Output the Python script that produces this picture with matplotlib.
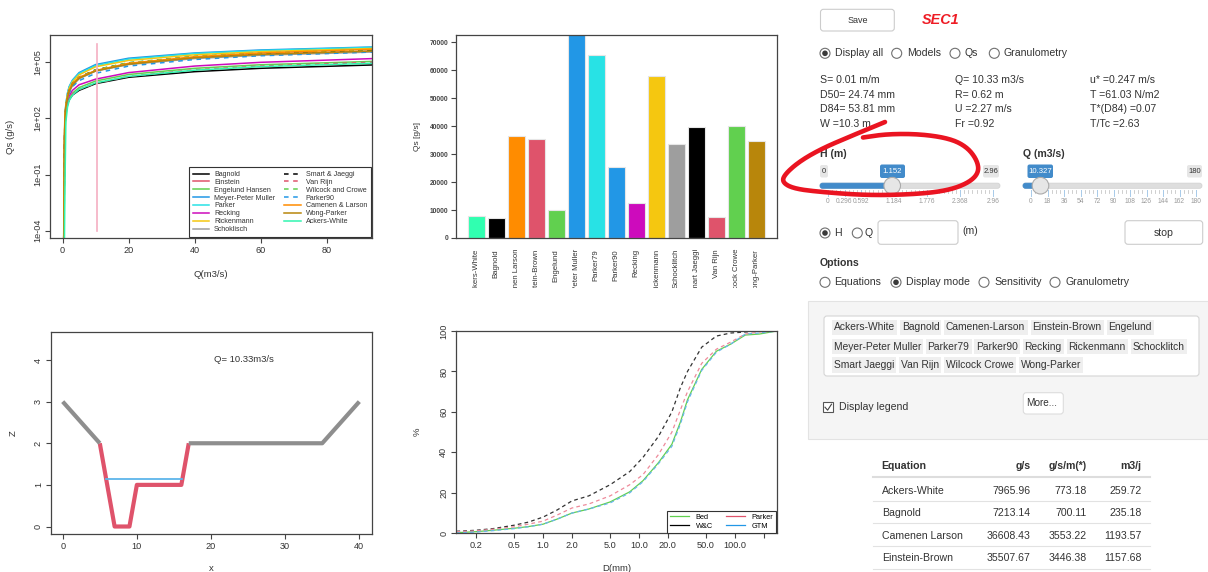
import numpy as np
import matplotlib
matplotlib.use("Agg")
from matplotlib import pyplot as plt
from matplotlib.patches import Rectangle, FancyBboxPatch, Circle
from matplotlib.lines import Line2D
from matplotlib.ticker import NullLocator
from matplotlib.transforms import Bbox, TransformedBbox, blended_transform_factory

plt.rcParams['font.family'] = ['Liberation Sans', 'DejaVu Sans']

W, H = 1208, 572

# ---------------- data ----------------
# Qs(Q) curves, log10 of g/s at these discharges
q_grid = [0.3, 0.5, 0.7, 1.0, 1.5, 2, 3, 5, 10, 20, 40, 60, 94]
curve_names = ["Bagnold", "Einstein", "Engelund Hansen", "Meyer-Peter Muller",
               "Parker", "Recking", "Rickenmann", "Schoklisch",
               "Smart & Jaeggi", "Van Rijn", "Wilcock and Crowe", "Parker90",
               "Camenen & Larson", "Wong-Parker", "Ackers-White"]
curve_colors = ["#000000", "#DF536B", "#61D04F", "#2297E6", "#28E2E5", "#CD0BBC",
                "#F5C710", "#9E9E9E", "#000000", "#DF536B", "#61D04F", "#2297E6",
                "#FF8C00", "#B8860B", "#30F5B0"]
curve_styles = ["-"] * 8 + ["--"] * 4 + ["-"] * 3
log_qs_bagnold = [-6, -2, 1.7, 2.35, 2.75, 3.0, 3.25, 3.5, 3.86, 4.2, 4.5, 4.68, 4.86]
log_qs_einstein = [-6, -1, 1.9, 2.6, 3.1, 3.45, 3.8, 4.15, 4.55, 4.92, 5.25, 5.43, 5.6]
log_qs_engelund = [-6, -3, 1.2, 2.2, 2.75, 3.05, 3.35, 3.65, 4.0, 4.35, 4.68, 4.87, 5.05]
log_qs_mpm = [-6, -1.0, 1.9, 2.75, 3.35, 3.7, 4.05, 4.45, 4.88, 5.22, 5.5, 5.66, 5.82]
log_qs_parker = [-6, -0.5, 2.0, 2.8, 3.35, 3.68, 4.02, 4.4, 4.82, 5.17, 5.47, 5.63, 5.8]
log_qs_recking = [-6, -1, 1.8, 2.5, 2.95, 3.2, 3.5, 3.8, 4.10, 4.45, 4.8, 5.0, 5.2]
log_qs_rickenmann = [-6, 0.0, 2.0, 2.7, 3.25, 3.6, 3.95, 4.33, 4.76, 5.1, 5.4, 5.57, 5.74]
log_qs_schoklisch = [-6, -1.5, 1.8, 2.55, 3.05, 3.4, 3.75, 4.12, 4.53, 4.88, 5.2, 5.38, 5.55]
log_qs_smart = [-6, -0.5, 1.9, 2.6, 3.15, 3.5, 3.85, 4.2, 4.60, 4.97, 5.3, 5.47, 5.65]
log_qs_vanrijn = [-6, -1.5, 1.6, 2.3, 2.75, 3.0, 3.3, 3.55, 3.88, 4.25, 4.6, 4.8, 5.0]
log_qs_wilcock = [-6, -3, 1.5, 2.5, 3.1, 3.45, 3.8, 4.18, 4.60, 4.98, 5.32, 5.5, 5.68]
log_qs_parker90 = [-6, -2, 1.7, 2.5, 3.0, 3.35, 3.7, 4.02, 4.41, 4.8, 5.15, 5.35, 5.55]
log_qs_camenen = [-6, 0.5, 2.1, 2.7, 3.2, 3.5, 3.85, 4.2, 4.56, 4.95, 5.3, 5.5, 5.7]
log_qs_wong = [-6, -0.8, 1.9, 2.6, 3.1, 3.45, 3.8, 4.15, 4.54, 4.9, 5.24, 5.42, 5.6]
log_qs_ackers = [-6, -6, -2, 1.8, 2.6, 2.95, 3.25, 3.55, 3.9, 4.25, 4.58, 4.77, 4.95]
curve_rows = [log_qs_bagnold, log_qs_einstein, log_qs_engelund, log_qs_mpm,
              log_qs_parker, log_qs_recking, log_qs_rickenmann, log_qs_schoklisch,
              log_qs_smart, log_qs_vanrijn, log_qs_wilcock, log_qs_parker90,
              log_qs_camenen, log_qs_wong, log_qs_ackers]
q_now = 10.33

# bar chart at current Q
bar_names = ["Ackers-White", "Bagnold", "Camenen Larson", "Einstein-Brown", "Engelund",
             "Meyer-Peter Muller", "Parker79", "Parker90", "Recking", "Rickenmann",
             "Schocklitch", "Smart Jaeggi", "Van Rijn", "Wilcock Crowe", "Wong-Parker"]
bar_values = [7965.96, 7213.14, 36608.43, 35507.67, 9900, 75000, 65500, 25500, 12500,
              58100, 33700, 39800, 7600, 40200, 34600]
bar_colors = ["#30FFB0", "#000000", "#FF8C00", "#DF536B", "#61D04F", "#2297E6", "#28E2E5",
              "#2297E6", "#CD0BBC", "#F5C710", "#9E9E9E", "#000000", "#DF536B", "#61D04F",
              "#B8860B"]

# cross section
sec_x = [0, 5, 7, 9, 10, 16, 17, 35, 40]
sec_z = [3, 2, 0, 0, 1, 1, 2, 2, 3]
water_h = 1.152
water_x = [5.85, 16.15]

# grain size curves
grain_d = [0.125, 0.2, 0.3, 0.5, 0.7, 1.0, 1.4, 2.0, 3.0, 5.0, 8.0, 11.0, 16.0, 22.0,
           27.0, 32.0, 45.0, 64.0, 90.0, 128.0, 180.0, 272.0]
grain_bed = [0.3, 0.8, 1.5, 2.5, 3.3, 4.5, 7.0, 10.0, 12.0, 15.5, 20.5, 26.0, 35.0, 44.0,
             55.0, 66.0, 81.0, 90.0, 93.5, 98.0, 98.5, 100]
grain_wc = [1.0, 1.5, 2.3, 4.0, 5.5, 8.0, 11.5, 16.0, 18.5, 24.0, 30.5, 37.5, 48.0, 60.0,
            72.0, 80.0, 92.0, 97.5, 99.0, 99.5, 100, 100]
grain_parker = [0.8, 1.2, 2.0, 3.2, 4.5, 6.0, 9.0, 12.5, 14.5, 18.5, 24.0, 29.0, 39.0, 50.0,
                61.0, 70.0, 84.0, 91.0, 94.5, 98.5, 99.5, 100]
grain_gtm = [0.2, 0.6, 1.3, 2.3, 3.2, 4.5, 7.0, 10.0, 12.0, 15.0, 20.0, 25.5, 34.5, 43.0,
             54.0, 65.0, 80.5, 89.5, 93.5, 98.5, 99.0, 100]

# side panel
stats_col1 = ["S= 0.01 m/m", "D50= 24.74 mm", "D84= 53.81 mm", "W =10.3 m"]
stats_col2 = ["Q= 10.33 m3/s", "R= 0.62 m", "U =2.27 m/s", "Fr =0.92"]
stats_col3 = ["u* =0.247 m/s", "T =61.03 N/m2", "T*(D84) =0.07", "T/Tc =2.63"]
tag_rows = [["Ackers-White", "Bagnold", "Camenen-Larson", "Einstein-Brown", "Engelund"],
            ["Meyer-Peter Muller", "Parker79", "Parker90", "Recking", "Rickenmann", "Schocklitch"],
            ["Smart Jaeggi", "Van Rijn", "Wilcock Crowe", "Wong-Parker"]]
table_eq = ["Ackers-White", "Bagnold", "Camenen Larson", "Einstein-Brown"]
table_gs = ["7965.96", "7213.14", "36608.43", "35507.67"]
table_gsm = ["773.18", "700.11", "3553.22", "3446.38"]
table_m3j = ["259.72", "235.18", "1193.57", "1157.68"]
h_labels = ["0", "0.296", "0.592", "1.184", "1.776", "2.368", "2.96"]
q_labels = ["0", "18", "36", "54", "72", "90", "108", "126", "144", "162", "180"]

fig = plt.figure(figsize=(W / 100, H / 100), dpi=100)
fig.patch.set_facecolor("white")


def px_axes(x0, y0, x1, y1):
    return fig.add_axes([x0 / W, 1 - y1 / H, (x1 - x0) / W, (y1 - y0) / H])


def r_style(ax, size=6.6):
    for s in ax.spines.values():
        s.set_color("#444444")
        s.set_linewidth(0.9)
    ax.tick_params(direction="out", length=3.6, width=0.8, color="#444444",
                   labelsize=size, labelcolor="#333333", pad=2)


def rot_yticks(ax, ticks, labels, size=6.6):
    ax.set_yticks(ticks)
    ax.set_yticklabels(labels, rotation=90, va="center", fontsize=size)


# ---------------- Qs vs Q ----------------
ax1 = px_axes(50, 35, 372, 238)
r_style(ax1)
handles = []
for name, row, col, ls in zip(curve_names, curve_rows, curve_colors, curve_styles):
    ln, = ax1.plot(q_grid, 10 ** np.array(row), color=col, ls=ls, lw=1.1,
                   dashes=(3, 3) if ls == "--" else (None, None), label=name)
    handles.append(ln)
ax1.plot([q_now, q_now], [1e-4, 1e6], color="#F5AFC2", lw=1.2)
ax1.set_yscale("log")
ax1.set_xlim(-3.8, 93.7)
ax1.set_ylim(10 ** -4.39, 10 ** 6.46)
ax1.yaxis.set_minor_locator(NullLocator())
rot_yticks(ax1, [1e-4, 1e-1, 1e2, 1e5], ["1e-04", "1e-01", "1e+02", "1e+05"])
ax1.set_xticks([0, 20, 40, 60, 80])
ax1.set_ylabel("Qs (g/s)", fontsize=6.8, color="#333333")
ax1.set_xlabel("Q(m3/s)", fontsize=6.8, color="#333333")
ax1.yaxis.set_label_coords(-0.109, 0.5)
ax1.xaxis.set_label_coords(0.5, -0.16)
leg = ax1.legend(handles=handles, loc="lower right", ncol=2, fontsize=5.1,
                 frameon=True, fancybox=False, edgecolor="#333333", framealpha=1,
                 borderaxespad=0.1, borderpad=0.6, labelspacing=0.12,
                 handlelength=2.3, handletextpad=0.7, columnspacing=1.3)
leg.get_frame().set_linewidth(0.8)
for t in leg.get_texts():
    t.set_color("#333333")

# ---------------- bar chart ----------------
ax2 = px_axes(456, 35, 776.7, 238)
r_style(ax2, 4.8)
bar_pos = 0.7 + 1.2 * np.arange(len(bar_values))
ax2.bar(bar_pos, bar_values, width=1.0, color=bar_colors, edgecolor="#E6E6E6", lw=0.8)
ax2.set_xlim(-0.51, 18.71)
ax2.set_ylim(0, 72600)
ax2.set_xticks([])
ax2.set_yticks(np.arange(0, 70001, 10000))
ax2.set_yticklabels([str(v) for v in range(0, 70001, 10000)], fontweight="bold",
                    color="#444444")
ax2.set_ylabel("Qs [g/s]", fontsize=6, color="#333333")
ax2.yaxis.set_label_coords(-0.109, 0.5)
lab_clip = TransformedBbox(Bbox.from_extents(440 / W, 1 - 288 / H, 790 / W, 1 - 240 / H),
                           fig.transFigure)
btrans = blended_transform_factory(ax2.transData, ax2.transAxes)
for p, name in zip(bar_pos, bar_names):
    t = ax2.text(p, -11 / 203, name, transform=btrans, rotation=90, ha="center", va="top",
                 fontsize=5.6, color="#333333", clip_on=True)
    t.set_clip_box(lab_clip)

# ---------------- cross section ----------------
ax3 = px_axes(50.7, 331.7, 371.7, 534)
r_style(ax3)
ax3.plot(sec_x[1:7], sec_z[1:7], color="#DF536B", lw=3.0, solid_capstyle="butt")
ax3.plot(sec_x[:2], sec_z[:2], color="#8E8E8E", lw=3.0, solid_capstyle="butt")
ax3.plot(sec_x[6:], sec_z[6:], color="#8E8E8E", lw=3.0, solid_capstyle="butt")
ax3.plot(water_x, [water_h, water_h], color="#5DB5EA", lw=1.3)
ax3.text(24.5, 4.02, "Q= %.2fm3/s" % q_now, ha="center", va="center", fontsize=6.8,
         color="#333333")
ax3.set_xlim(-1.62, 41.67)
ax3.set_ylim(-0.18, 4.68)
ax3.set_xticks([0, 10, 20, 30, 40])
rot_yticks(ax3, [0, 1, 2, 3, 4], ["0", "1", "2", "3", "4"])
ax3.set_ylabel("Z", fontsize=6.8, color="#333333")
ax3.set_xlabel("x", fontsize=6.8, color="#333333")
ax3.yaxis.set_label_coords(-0.102, 0.5)
ax3.xaxis.set_label_coords(0.5, -0.15)

# ---------------- grain size ----------------
ax4 = px_axes(456, 331, 776.7, 533.3)
r_style(ax4)
ax4.set_xscale("log")
g1, = ax4.plot(grain_d, grain_bed, color="#61D04F", lw=0.9)
g2, = ax4.plot(grain_d, grain_wc, color="#333333", lw=0.9, dashes=(3, 2.5))
g3, = ax4.plot(grain_d, grain_parker, color="#EE8A9A", lw=0.9, dashes=(3, 2.5))
g4, = ax4.plot(grain_d, grain_gtm, color="#6AB6EC", lw=0.9, dashes=(3, 2.5))
ax4.set_xlim(0.124, 272)
ax4.set_ylim(0, 100)
ax4.xaxis.set_minor_locator(NullLocator())
ax4.set_xticks([0.2, 0.5, 1, 2, 5, 10, 20, 50, 100, 200])
ax4.set_xticklabels(["0.2", "0.5", "1.0", "2.0", "5.0", "10.0", "20.0", "50.0", "100.0", ""])
rot_yticks(ax4, [0, 20, 40, 60, 80, 100], ["0", "20", "40", "60", "80", "100"])
ax4.set_ylabel("%", fontsize=6.8, color="#333333")
ax4.set_xlabel("D(mm)", fontsize=6.8, color="#333333")
ax4.yaxis.set_label_coords(-0.107, 0.5)
ax4.xaxis.set_label_coords(0.5, -0.15)
h_bed = Line2D([], [], color="#61D04F", lw=0.9)
h_wc = Line2D([], [], color="#000000", lw=0.9)
h_pk = Line2D([], [], color="#DF536B", lw=0.9)
h_gtm = Line2D([], [], color="#2297E6", lw=0.9)
leg2 = ax4.legend([h_bed, h_wc, h_pk, h_gtm], ["Bed", "W&C", "Parker", "GTM"],
                  loc="lower right", ncol=2, fontsize=5.3, frameon=True, fancybox=False,
                  edgecolor="#333333", framealpha=1, borderaxespad=0.05, borderpad=0.4,
                  labelspacing=0.25, handlelength=2.6, handletextpad=0.9, columnspacing=1.8)
leg2.get_frame().set_linewidth(0.8)

# ---------------- side panel (pixel coordinates) ----------------
ov = fig.add_axes([0, 0, 1, 1])
ov.set_xlim(0, W)
ov.set_ylim(H, 0)
ov.axis("off")
ov.set_zorder(10)
TXT = "#333333"


def ui_text(x, y, s, size=7.6, **kw):
    kw.setdefault("color", TXT)
    kw.setdefault("va", "center")
    ov.text(x, y, s, fontsize=size, **kw)


def box(x0, y0, x1, y1, fc="white", ec="#CCCCCC", r=3, lw=0.8, z=1):
    ov.add_patch(FancyBboxPatch((x0, y0), x1 - x0, y1 - y0,
                                boxstyle="round,pad=0,rounding_size=%g" % r,
                                fc=fc, ec=ec, lw=lw, zorder=z))


def radio(x, y, on=False):
    ov.add_patch(Circle((x, y), 5, fc="white", ec="#707070", lw=0.8, zorder=3))
    if on:
        ov.add_patch(Circle((x, y), 2.8, fc="#3A3A3A", ec="none", zorder=4))


# save button and section name
box(820.5, 9.3, 894.3, 31)
ui_text(857.4, 20.2, "Save", size=6.5, ha="center")
ui_text(921.7, 20.2, "SEC1", size=10.4, color="#EE1C25", fontweight="bold",
        fontstyle="italic")

# display radio row
for cx, tx, label, on in [(825, 835, "Display all", True), (896.7, 906.7, "Models", False),
                          (955, 964.5, "Qs", False), (994.3, 1003.5, "Granulometry", False)]:
    radio(cx, 53.3, on)
    ui_text(tx, 53.3, label)

# stats
row_y = [80, 94.7, 108.7, 123.7]
for col_x, col in [(820, stats_col1), (955, stats_col2), (1090, stats_col3)]:
    for y, s in zip(row_y, col):
        ui_text(col_x, y, s)


# sliders
def slider(x0, x1, g0, g1, frac, labels, label_frac, val_txt, val_x0, val_x1,
           min_box, max_box, max_txt, minor):
    ty = 185.7
    box(x0, ty - 2.6, x1, ty + 2.6, fc="#DEDEDE", ec="#D0D0D0", r=2.5, lw=0.5, z=2)
    hx = g0 + frac * (g1 - g0)
    box(x0, ty - 2.6, hx, ty + 2.6, fc="#428BCA", ec="#428BCA", r=2.5, lw=0.5, z=2)
    steps = np.linspace(0, 1, minor + 1)
    for f in steps:
        xx = g0 + f * (g1 - g0)
        ov.plot([xx, xx], [190, 193], color="#C8C8C8", lw=0.6, zorder=2)
    for f, s in zip(label_frac, labels):
        xx = g0 + f * (g1 - g0)
        ov.plot([xx, xx], [190, 196], color="#A8CBEA", lw=0.7, zorder=2)
        ov.text(xx, 201.7, s, fontsize=4.8, color="#9A9A9A", ha="center", va="center")
    ov.add_patch(Circle((hx, ty), 8.3, fc="#E6E6E6", ec="#ABABAB", lw=0.8, zorder=5))
    if min_box is not None:
        box(min_box[0], 165, min_box[1], 177.5, fc="#E6E6E6", ec="none", r=2, z=3)
        ov.text((min_box[0] + min_box[1]) / 2, 171.3, "0", fontsize=5.5, color=TXT,
                ha="center", va="center", zorder=4)
    box(max_box[0], 165, max_box[1], 177.5, fc="#E6E6E6", ec="none", r=2, z=3)
    ov.text((max_box[0] + max_box[1]) / 2, 171.3, max_txt, fontsize=5.5, color=TXT,
            ha="center", va="center", zorder=4)
    box(val_x0, 164.5, val_x1, 178, fc="#428BCA", ec="none", r=2, z=3)
    ov.text((val_x0 + val_x1) / 2, 171.3, val_txt, fontsize=5.6, color="white",
            ha="center", va="center", zorder=4)


ui_text(820, 154, "H (m)", fontweight="bold")
ui_text(1023, 154, "Q (m3/s)", fontweight="bold")
slider(820, 1000, 828, 993, 1.152 / 2.96, h_labels, [0, 0.1, 0.2, 0.4, 0.6, 0.8, 1.0],
       "1.152", 880, 905, (820, 828), (983, 999), "2.96", 40)
slider(1023, 1202, 1031, 1196, 10.327 / 180, q_labels, np.linspace(0, 1, 11),
       "10.327", 1027.5, 1053, None, (1187, 1202), "180", 40)

# H / Q input row
radio(825, 233, True)
ui_text(834, 233, "H")
radio(857.3, 233, False)
ui_text(864.5, 233, "Q")
box(878, 220.7, 958, 244.3)
ui_text(962, 231.5, "(m)")
box(1125, 220.7, 1202.7, 244.3)
ui_text(1163.8, 232.5, "stop", ha="center")

# options
ui_text(820, 263.3, "Options", fontweight="bold")
for cx, tx, label, on in [(825, 834.5, "Equations", False), (896, 906, "Display mode", True),
                          (984, 994, "Sensitivity", False), (1055, 1065, "Granulometry", False)]:
    radio(cx, 282.3, on)
    ui_text(tx, 282.3, label)

# well with equation tags
ov.add_patch(Rectangle((808.3, 300.7), 420, 138.3, fc="#F5F5F5", ec="#E3E3E3", lw=0.8,
                       zorder=0.5))
box(824, 316, 1199, 376, fc="white", ec="#D5D5D5", r=3, z=1)
tag_y = [327.5, 346.5, 364.7]
tag_x0 = [[831.7, 900, 944, 1030.7, 1106.7],
          [831.7, 925.7, 974.3, 1022.7, 1066.7, 1131],
          [831.7, 899, 944, 1019]]
tag_x1 = [[896.7, 941, 1027.7, 1104, 1154],
          [923.3, 971.7, 1020, 1064, 1128.3, 1187],
          [896, 941, 1016, 1082.7]]
for y, names, xs0, xs1 in zip(tag_y, tag_rows, tag_x0, tag_x1):
    for n, a, b in zip(names, xs0, xs1):
        ov.add_patch(Rectangle((a, y - 7.8), b - a, 15.6, fc="#EFEFEF", ec="none", zorder=2))
        ui_text(a + 1.8, y, n, size=7.4)

# display legend checkbox and More button
ov.add_patch(Rectangle((823, 402.3), 10, 10, fc="white", ec="#555555", lw=0.8, zorder=3))
ov.plot([825, 827.6, 831.5], [407.2, 410.2, 404.2], color="#444444", lw=0.8, zorder=4)
ui_text(839, 407, "Display legend")
box(1023.3, 392.7, 1063.3, 414, ec="#DDDDDD")
ui_text(1026.5, 403.3, "More...", size=7.2)

# results table
ui_text(881.7, 466, "Equation", fontweight="bold")
ui_text(1030.5, 466, "g/s", fontweight="bold", ha="right")
ui_text(1086.5, 466, "g/s/m(*)", fontweight="bold", ha="right")
ui_text(1141.7, 466, "m3/j", fontweight="bold", ha="right")
ov.plot([873, 1150], [477.3, 477.3], color="#DDDDDD", lw=1.5)
for y, yl, a, b, c, d in zip([490.7, 512.7, 535.7, 557.7], [500.7, 523.3, 546, 569],
                             table_eq, table_gs, table_gsm, table_m3j):
    ui_text(881.7, y, a)
    ui_text(1030.5, y, b, ha="right")
    ui_text(1086.5, y, c, ha="right")
    ui_text(1141.7, y, d, ha="right")
    ov.plot([873, 1150], [yl, yl], color="#E2E2E2", lw=0.8)


# red hand-drawn mark around the H slider
def chaikin(pts, n=4):
    p = np.array(pts, float)
    for _ in range(n):
        q = 0.75 * p[:-1] + 0.25 * p[1:]
        r = 0.25 * p[:-1] + 0.75 * p[1:]
        mid = np.empty((2 * len(q), 2))
        mid[0::2] = q
        mid[1::2] = r
        p = np.vstack([p[:1], mid, p[-1:]])
    return p


red_pts = [(863, 137.5), (887, 134), (920, 134), (950, 138.5), (967, 147), (977, 160),
           (979, 172), (970, 182), (950, 190), (920, 194), (870, 195.5), (820, 192),
           (793, 188.5), (782, 182), (785, 174), (800, 161), (822, 148.5), (850, 136.5),
           (885, 122)]
sm = chaikin(red_pts)
ov.plot(sm[:, 0], sm[:, 1], color="#EA1421", lw=3.3, solid_capstyle="round",
        solid_joinstyle="round", zorder=20)

fig.savefig("out.png", dpi=100)
